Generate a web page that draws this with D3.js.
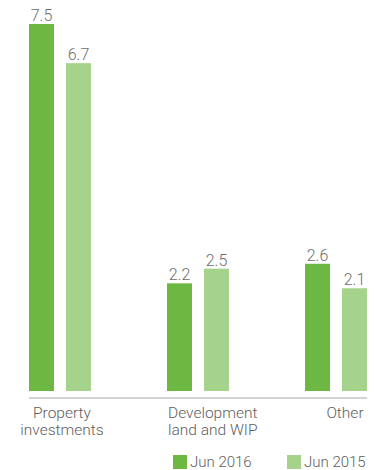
<!DOCTYPE html>
<html>
<head>
<meta charset="utf-8">
<script src="https://cdn.jsdelivr.net/npm/d3@7"></script>
<style>
  html, body { margin: 0; padding: 0; background: #fff; }
  svg { display: block; }
  text { font-family: Roboto, "Liberation Sans", Arial, sans-serif; font-weight: 300; fill: #5e5e5e; }
</style>
</head>
<body>
<svg id="chart" width="380" height="470"></svg>
<script>
// Categories (each label may span two lines)
const categories = ["Property investments", "Development land and WIP", "Other"];
const categoryLines = [["Property", "investments"], ["Development", "land and WIP"], ["Other"]];
// How each category label sits under its pair of bars
const labelAnchors = ["middle", "start", "middle"];
const labelShifts = [2, 0, 9];

// Series
const seriesNames = ["Jun 2016", "Jun 2015"];
const jun2016 = [7.5, 2.2, 2.6];
const jun2015 = [6.7, 2.5, 2.1];
const seriesColors = ["#6cb843", "#a6d38c"];

const svg = d3.select("#chart");

const x0 = d3.scaleBand()
  .domain(categories)
  .range([29, 367])
  .paddingInner(0.551)
  .paddingOuter(0);

const x1 = d3.scaleBand()
  .domain(seriesNames)
  .range([0, x0.bandwidth()])
  .paddingInner(0.324)
  .paddingOuter(0);

const y = d3.scaleLinear()
  .domain([0, 7.5])
  .range([391, 24]);

const color = d3.scaleOrdinal().domain(seriesNames).range(seriesColors);

const rows = categories.map((c, i) => ({
  category: c,
  values: [
    { series: seriesNames[0], value: jun2016[i] },
    { series: seriesNames[1], value: jun2015[i] }
  ]
}));

const groups = svg.selectAll("g.group")
  .data(rows)
  .join("g")
  .attr("class", "group")
  .attr("transform", d => `translate(${x0(d.category)},0)`);

groups.selectAll("rect")
  .data(d => d.values)
  .join("rect")
  .attr("x", d => x1(d.series))
  .attr("y", d => y(d.value))
  .attr("width", x1.bandwidth())
  .attr("height", d => y(0) - y(d.value))
  .attr("fill", d => color(d.series));

groups.selectAll("text.value")
  .data(d => d.values)
  .join("text")
  .attr("class", "value")
  .attr("x", d => x1(d.series) + x1.bandwidth() / 2)
  .attr("y", d => y(d.value) - 3)
  .attr("text-anchor", "middle")
  .style("font-size", "16px")
  .style("fill", "#6e6e6e")
  .text(d => d3.format(".1f")(d.value));

// Baseline rule
svg.append("line")
  .attr("x1", x0.range()[0])
  .attr("x2", x0.range()[1])
  .attr("y1", 398)
  .attr("y2", 398)
  .attr("stroke", "#a8a8a8")
  .attr("stroke-width", 1);

// Category labels
categories.forEach((c, i) => {
  const anchor = labelAnchors[i];
  const bx = anchor === "start" ? x0(c) + 1 : x0(c) + x0.bandwidth() / 2 + labelShifts[i];
  const t = svg.append("text")
    .attr("text-anchor", anchor)
    .attr("x", bx)
    .attr("y", 418)
    .style("font-size", "15.5px");
  categoryLines[i].forEach((line, j) => {
    t.append("tspan")
      .attr("x", bx)
      .attr("dy", j === 0 ? 0 : 17)
      .text(line);
  });
});

// Legend
const legendX = [173, 287];
const legend = svg.selectAll("g.legend")
  .data(seriesNames)
  .join("g")
  .attr("class", "legend")
  .attr("transform", (d, i) => `translate(${legendX[i]},455)`);

legend.append("rect")
  .attr("width", 14)
  .attr("height", 14)
  .attr("fill", d => color(d));

legend.append("text")
  .attr("x", 17)
  .attr("y", 11.5)
  .style("font-size", "15px")
  .text(d => d);
</script>
</body>
</html>
